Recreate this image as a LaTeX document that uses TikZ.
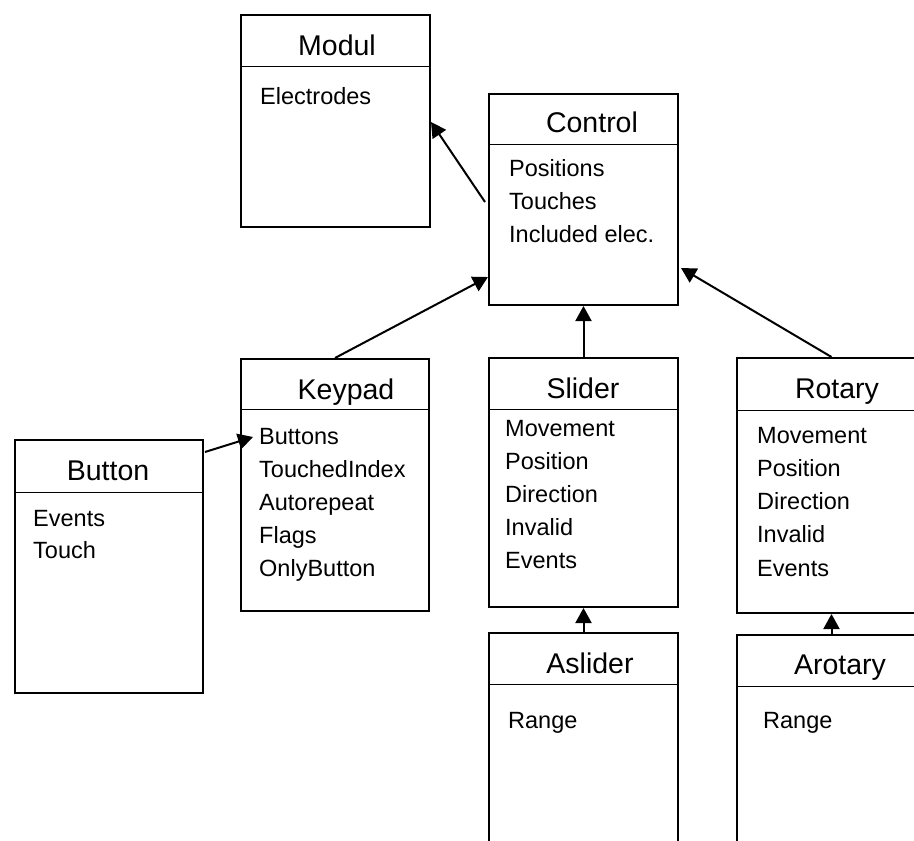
\documentclass[tikz,border=0pt]{standalone}
\usepackage{fontspec}
\setmainfont{Liberation Sans}
\usetikzlibrary{arrows.meta,calc}

\begin{document}
\begin{tikzpicture}[x=1pt,y=-1pt,
  classbox/.style={draw, line width=2pt, rectangle, anchor=north west, inner sep=0pt},
  clsname/.style={font=\fontsize{28.5}{30}\selectfont, inner sep=0pt, anchor=base},
  attr/.style={font=\fontsize{23.5}{25}\selectfont, inner sep=0pt, anchor=base west},
  divider/.style={line width=1pt},
  inherit/.style={line width=2pt, -{Triangle[length=15pt,width=16pt]}}]

\useasboundingbox (0,0) rectangle (914,841);
\clip (0,0) rectangle (914,841);

% ---- Modul ----
\node[classbox, minimum width=189pt, minimum height=212pt] (mod) at (240,14) {};
\draw[divider] ($(mod.north west)+(0,52)$) -- ($(mod.north east)+(0,52)$);
\node[clsname] (modT) at (337,55) {Modul};
\node[attr] (modA1) at (260,104) {Electrodes};

% ---- Control ----
\node[classbox, minimum width=189pt, minimum height=211pt] (ctl) at (488,93) {};
\draw[divider] ($(ctl.north west)+(0,51)$) -- ($(ctl.north east)+(0,51)$);
\node[clsname] (ctlT) at (592,132) {Control};
\node[attr] (ctlA1) at (509,176) {Positions};
\node[attr] (ctlA2) at (509,209) {Touches};
\node[attr] (ctlA3) at (509,242) {Included elec.};

% ---- Keypad ----
\node[classbox, minimum width=188pt, minimum height=252pt] (kp) at (240,358) {};
\draw[divider] ($(kp.north west)+(0,51)$) -- ($(kp.north east)+(0,51)$);
\node[clsname] (kpT) at (346,399) {Keypad};
\node[attr] (kpA1) at (259,444) {Buttons};
\node[attr] (kpA2) at (259,477) {TouchedIndex};
\node[attr] (kpA3) at (259,510) {Autorepeat};
\node[attr] (kpA4) at (259,543) {Flags};
\node[attr] (kpA5) at (259,576) {OnlyButton};

% ---- Button ----
\node[classbox, minimum width=188pt, minimum height=253pt] (btn) at (14,439) {};
\draw[divider] ($(btn.north west)+(0,53)$) -- ($(btn.north east)+(0,53)$);
\node[clsname] (btnT) at (108,480) {Button};
\node[attr] (btnA1) at (33,526) {Events};
\node[attr] (btnA2) at (33,558) {Touch};

% ---- Slider ----
\node[classbox, minimum width=189pt, minimum height=249pt] (sl) at (488,357) {};
\draw[divider] ($(sl.north west)+(0,52)$) -- ($(sl.north east)+(0,52)$);
\node[clsname] (slT) at (583,398) {Slider};
\node[attr] (slA1) at (505,436) {Movement};
\node[attr] (slA2) at (505,469) {Position};
\node[attr] (slA3) at (505,502) {Direction};
\node[attr] (slA4) at (505,535) {Invalid};
\node[attr] (slA5) at (505,568) {Events};

% ---- Rotary ----
\node[classbox, minimum width=189pt, minimum height=255pt] (rot) at (736,357) {};
\draw[divider] ($(rot.north west)+(0,53)$) -- ($(rot.north east)+(0,53)$);
\node[clsname] (rotT) at (837,398) {Rotary};
\node[attr] (rotA1) at (757,443) {Movement};
\node[attr] (rotA2) at (757,476) {Position};
\node[attr] (rotA3) at (757,509) {Direction};
\node[attr] (rotA4) at (757,542) {Invalid};
\node[attr] (rotA5) at (757,576) {Events};

% ---- Aslider ----
\node[classbox, minimum width=189pt, minimum height=280pt] (asl) at (488,632) {};
\draw[divider] ($(asl.north west)+(0,52)$) -- ($(asl.north east)+(0,52)$);
\node[clsname] (aslT) at (590,673) {Aslider};
\node[attr] (aslA1) at (508,728) {Range};

% ---- Arotary ----
\node[classbox, minimum width=189pt, minimum height=280pt] (arot) at (736,634) {};
\draw[divider] ($(arot.north west)+(0,52)$) -- ($(arot.north east)+(0,52)$);
\node[clsname] (arotT) at (840,674) {Arotary};
\node[attr] (arotA1) at (763,728) {Range};

% ---- inheritance arrows ----
\draw[inherit] ($(ctl.north west)+(-3,109)$) -- ($(mod.north east)+(0,108)$);
\draw[inherit] ($(kp.north west)+(95,0)$) -- ($(ctl.north west)+(0,184)$);
\draw[inherit] (sl.north) -- (ctl.south);
\draw[inherit] (rot.north) -- ($(ctl.north east)+(2,175)$);
\draw[inherit] ($(btn.north east)+(1,13)$) -- ($(kp.north west)+(13,79)$);
\draw[inherit] (asl.north) -- (sl.south);
\draw[inherit] (arot.north) -- (rot.south);
\end{tikzpicture}
\end{document}
